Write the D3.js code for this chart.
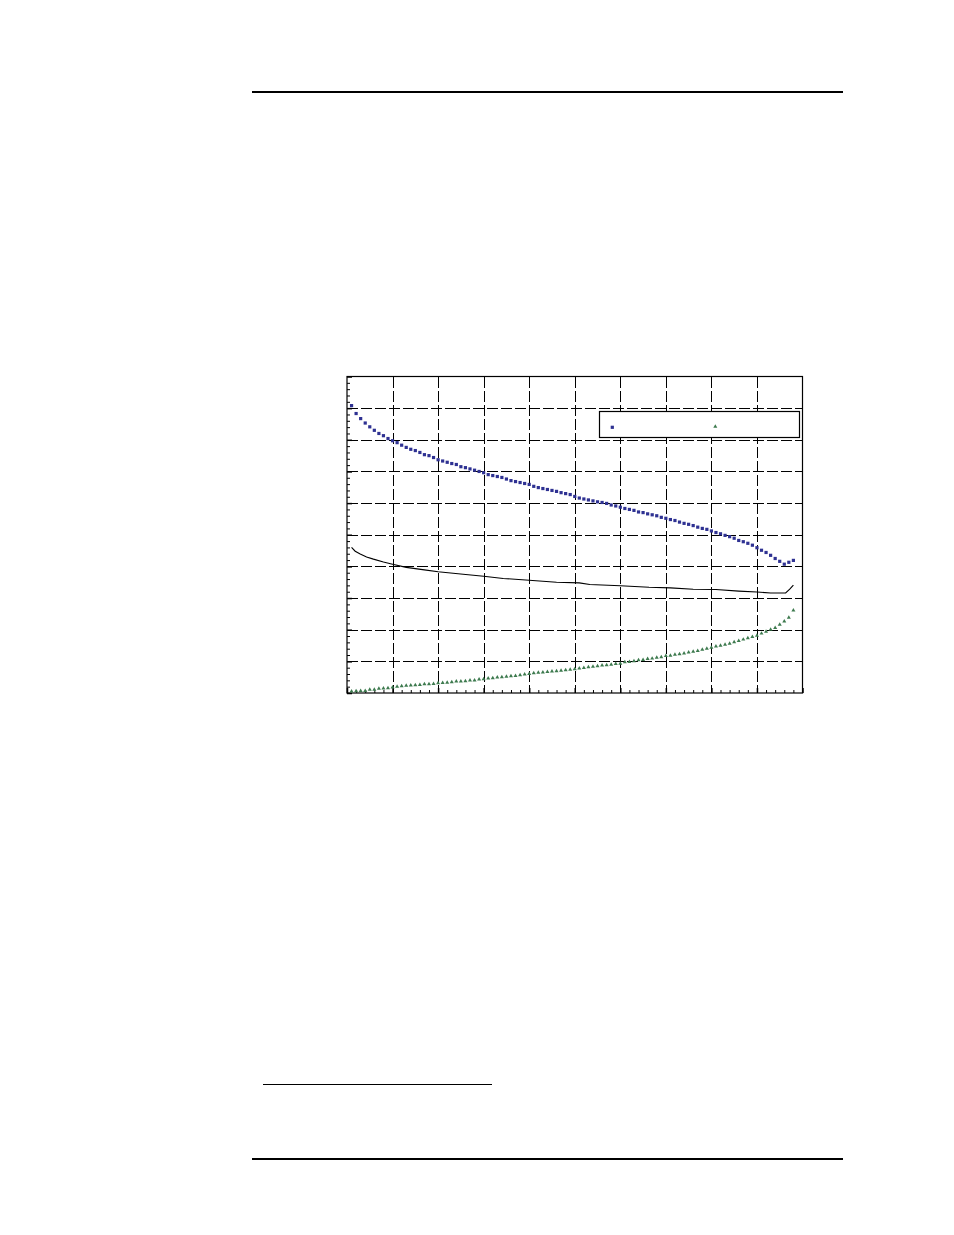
<!DOCTYPE html>
<html>
<head>
<meta charset="utf-8">
<script src="https://cdn.jsdelivr.net/npm/d3@7"></script>
<style>
  html, body { margin: 0; padding: 0; background: #fff; }
  svg { display: block; }
</style>
</head>
<body>
<svg id="page" width="954" height="1235"></svg>
<script>
// ---- data ----
const xPositions = [1,2,3,4,5,6,7,8,9,10,11,12,13,14,15,16,17,18,19,20,21,22,23,24,25,26,27,28,29,30,31,32,33,34,35,36,37,38,39,40,41,42,43,44,45,46,47,48,49,50,51,52,53,54,55,56,57,58,59,60,61,62,63,64,65,66,67,68,69,70,71,72,73,74,75,76,77,78,79,80,81,82,83,84,85,86,87,88,89,90,91,92,93,94,95,96,97,98];

const blueSeries = [90.8,88.3,86.7,85.3,84.1,83.0,82.0,81.3,80.4,79.7,
  79.1,78.3,77.6,77.0,76.6,76.0,75.3,75.0,74.4,73.7,
  73.3,72.9,72.5,72.2,71.5,71.2,70.8,70.4,70.0,69.6,
  69.0,68.7,68.4,68.1,67.6,67.1,66.8,66.5,66.2,65.9,
  65.3,64.9,64.6,64.3,64.0,63.7,63.3,63.0,62.7,62.1,
  61.6,61.3,61.0,60.7,60.4,60.2,59.9,59.4,59.1,58.7,
  58.3,58.0,57.7,57.2,57.0,56.6,56.3,56.0,55.5,55.2,
  54.8,54.5,54.0,53.6,53.3,52.9,52.4,52.0,51.7,51.2,
  50.7,50.3,49.8,49.4,48.9,48.2,47.8,47.3,46.7,45.9,
  45.1,44.4,43.5,42.5,41.6,40.7,41.3,41.9];

const greenSeries = [0.2,0.3,0.4,0.4,0.8,0.8,1.05,1.15,1.26,1.47,
  1.68,1.89,2.0,2.1,2.2,2.3,2.5,2.5,2.6,2.8,
  2.9,3.0,3.15,3.36,3.36,3.46,3.67,3.67,3.98,4.1,
  4.3,4.4,4.6,4.7,4.9,5.0,5.1,5.35,5.56,5.77,
  5.98,6.1,6.2,6.4,6.5,6.6,6.8,6.9,7.1,7.25,
  7.45,7.66,7.9,8.0,8.2,8.4,8.5,8.7,8.9,9.0,
  9.45,9.55,9.77,10.1,10.2,10.5,10.6,10.9,11.0,11.4,
  11.5,11.85,11.96,12.2,12.5,12.8,13.0,13.4,13.7,14.05,
  14.4,14.7,15.0,15.3,15.75,16.2,16.6,17.0,17.4,17.8,
  18.5,19.1,19.7,20.3,21.3,22.3,23.5,25.8];

const lineX = [1,1.8,2.9,4.3,5.8,8,10,13,17,20,25.5,30,34.3,40,46,51,53.3,60,66.3,71,76,81,86,90,93,96.3,97.2,98];
const lineY = [46.0,44.8,43.9,43.0,42.3,41.4,40.7,39.7,38.9,38.3,37.5,36.9,36.2,35.6,35.0,34.8,34.3,33.9,33.4,33.2,32.8,32.7,32.2,31.9,31.6,31.6,32.8,34.1];

const xDomain = [0, 100];
const yDomain = [0, 100];
const majorTicks = [0,10,20,30,40,50,60,70,80,90,100];
const minorTicks = [2,4,6,8,12,14,16,18,22,24,26,28,32,34,36,38,42,44,46,48,52,54,56,58,62,64,66,68,72,74,76,78,82,84,86,88,92,94,96,98];

// ---- drawing ----
const svg = d3.select("#page");
const blue = "#2e3192";
const green = "#3d7a4e";

// page rules
svg.append("line").attr("x1", 252).attr("x2", 843).attr("y1", 92).attr("y2", 92)
  .attr("stroke", "#000").attr("stroke-width", 2);
svg.append("line").attr("x1", 263).attr("x2", 492).attr("y1", 1084.5).attr("y2", 1084.5)
  .attr("stroke", "#000").attr("stroke-width", 1);
svg.append("line").attr("x1", 252).attr("x2", 843).attr("y1", 1159).attr("y2", 1159)
  .attr("stroke", "#000").attr("stroke-width", 2);

const L = 347, R = 802.5, T = 376.5, B = 693;
const x = d3.scaleLinear().domain(xDomain).range([L, R]);
const y = d3.scaleLinear().domain(yDomain).range([B, T]);

const g = svg.append("g");

// gridlines (dashed)
const grid = g.append("g").attr("stroke", "#000").attr("stroke-width", 1.1)
  .attr("stroke-dasharray", "11,3").attr("shape-rendering", "crispEdges");
grid.selectAll("line.v").data(majorTicks.slice(1, -1)).join("line")
  .attr("x1", d => Math.round(x(d)) + 0.5).attr("x2", d => Math.round(x(d)) + 0.5)
  .attr("y1", T).attr("y2", B);
grid.selectAll("line.h").data(majorTicks.slice(1, -1)).join("line")
  .attr("y1", d => Math.round(y(d)) + 0.5).attr("y2", d => Math.round(y(d)) + 0.5)
  .attr("x1", L).attr("x2", R);

// axes with inward ticks
function styleAxis(sel) {
  sel.selectAll("text").remove();
  sel.select(".domain").remove();
  sel.selectAll("line").attr("stroke", "#000").attr("stroke-width", 1);
}
g.append("g").attr("transform", `translate(${L},0)`)
  .call(d3.axisLeft(y).tickValues(minorTicks).tickSize(-3).tickFormat(""))
  .call(styleAxis);
g.append("g").attr("transform", `translate(${L},0)`)
  .call(d3.axisLeft(y).tickValues(majorTicks).tickSize(-5).tickFormat(""))
  .call(styleAxis).selectAll("line").attr("stroke-width", 1.5);
g.append("g").attr("transform", `translate(0,${B})`)
  .call(d3.axisBottom(x).tickValues(minorTicks).tickSize(-3).tickFormat(""))
  .call(styleAxis);
g.append("g").attr("transform", `translate(0,${B})`)
  .call(d3.axisBottom(x).tickValues(majorTicks).tickSize(-5).tickFormat(""))
  .call(styleAxis).selectAll("line").attr("stroke-width", 1.5);

// frame
g.append("rect").attr("x", L).attr("y", T).attr("width", R - L).attr("height", B - T)
  .attr("fill", "none").attr("stroke", "#000").attr("stroke-width", 1.2);

// black line
const lineData = lineX.map((v, i) => [v, lineY[i]]);
g.append("path").datum(lineData)
  .attr("d", d3.line().x(d => x(d[0])).y(d => y(d[1])))
  .attr("fill", "none").attr("stroke", "#000").attr("stroke-width", 1.1);

// blue squares
g.append("g").selectAll("rect").data(xPositions.map((v, i) => [v, blueSeries[i]])).join("rect")
  .attr("x", d => x(d[0]) - 1.6).attr("y", d => y(d[1]) - 1.6)
  .attr("width", 3.2).attr("height", 3.2).attr("fill", blue);

// green triangles
const tri = d3.symbol().type(d3.symbolTriangle).size(7);
g.append("g").selectAll("path").data(xPositions.map((v, i) => [v, greenSeries[i]])).join("path")
  .attr("d", tri).attr("transform", d => `translate(${x(d[0])},${y(d[1]) - 1})`)
  .attr("fill", green);

// legend
const lg = g.append("g");
lg.append("rect").attr("x", 599.5).attr("y", 411.5).attr("width", 200).attr("height", 26)
  .attr("fill", "#fff").attr("stroke", "#000").attr("stroke-width", 1.2);
lg.append("rect").attr("x", 612.3 - 1.6).attr("y", 427.3 - 1.6).attr("width", 3.2).attr("height", 3.2)
  .attr("fill", blue);
lg.append("path").attr("d", tri).attr("transform", "translate(715.3,426.5)").attr("fill", green);
</script>
</body>
</html>
